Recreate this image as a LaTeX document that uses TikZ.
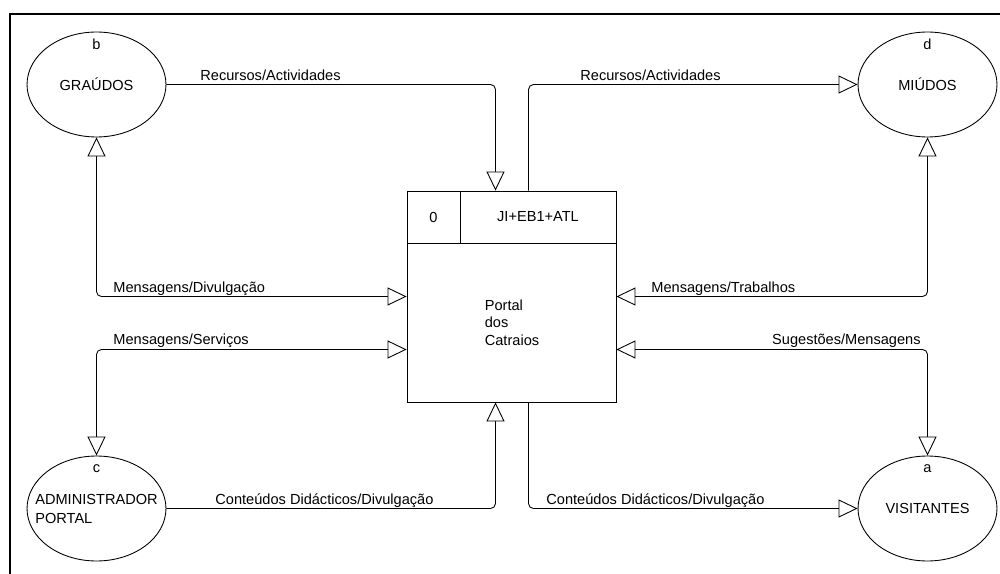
\documentclass[tikz,border=0pt]{standalone}
\usepackage{fontspec}
\setmainfont{Liberation Sans}
\usetikzlibrary{arrows.meta,shapes.geometric,calc}

\begin{document}
\begin{tikzpicture}[x=0.02cm, y=-0.02cm, line width=0.5pt,
        font=\fontsize{8.3}{10}\selectfont,
        >={Triangle[open, length=0.38cm, width=0.36cm]},
        entity/.style={draw, ellipse, inner sep=0pt, minimum width=2.78cm, minimum height=2.1cm},
        flow/.style={draw, rounded corners=0.1cm},
        lbl/.style={anchor=base west, inner sep=0pt}]
            \clip (0, 0) rectangle (1000, 574);
            \draw[line width=1.1pt] (10, 14) rectangle (1010, 600);

            % process box with its header
            \node[draw, inner sep=0pt, minimum width=4.18cm, minimum height=4.22cm] (proc) at (511.5, 296.5) {};
            \node[draw, inner sep=0pt, minimum width=1.06cm, minimum height=1.04cm, anchor=north west] (procid) at (proc.north west) {0};
            \node[draw, inner sep=0pt, minimum width=3.12cm, minimum height=1.04cm, anchor=north east] (procloc) at (proc.north east) {JI+EB1+ATL};
            \node[align=left] (procname) at (512, 322.5) {Portal\\dos\\Catraios};

            % external entities
            \node[entity] (graudos) at (96.5, 84.5) {GRAÚDOS};
            \node[entity] (miudos) at (927.5, 84.5) {MIÚDOS};
            \node[entity] (admin) at (96.5, 508.5) {};
            \node[entity] (visit) at (927.5, 508.5) {VISITANTES};
            \node[align=left, font=\fontsize{8.3}{10.8}\selectfont] (adminname) at (admin.center) {ADMINISTRADOR\\PORTAL};
            \node[anchor=base] (graudosid) at ($(graudos.north)+(0, 18)$) {b};
            \node[anchor=base] (miudosid) at ($(miudos.north)+(0, 18)$) {d};
            \node[anchor=base] (adminid) at ($(admin.north)+(0, 17)$) {c};
            \node[anchor=base] (visitid) at ($(visit.north)+(0, 17)$) {a};

            % data flows
            \draw[flow, ->] (graudos.east) -| ($(proc.north)+(-16, 0)$);
            \draw[flow, ->] ($(proc.north)+(17, 0)$) |- (miudos.west);
            \draw[flow, <->] (graudos.south) |- (proc.west);
            \draw[flow, <->] (admin.north) |- ($(proc.west)+(0, 53)$);
            \draw[flow, <->] (miudos.south) |- (proc.east);
            \draw[flow, <->] (visit.north) |- ($(proc.east)+(0, 53)$);
            \draw[flow, ->] (admin.east) -| ($(proc.south)+(-16, 0)$);
            \draw[flow, ->] ($(proc.south)+(17, 0)$) |- (visit.west);

            \node[lbl] (flowa) at (200, 81) {Recursos/Actividades};
            \node[lbl] (flowb) at (580, 81) {Recursos/Actividades};
            \node[lbl] (flowc) at (113, 292) {Mensagens/Divulgação};
            \node[lbl] (flowd) at (113, 344) {Mensagens/Serviços};
            \node[lbl] (flowe) at (651, 292) {Mensagens/Trabalhos};
            \node[lbl, anchor=base east] (flowf) at (921, 344) {Sugestões/Mensagens};
            \node[lbl] (flowg) at (215, 504) {Conteúdos Didácticos/Divulgação};
            \node[lbl] (flowh) at (546, 504) {Conteúdos Didácticos/Divulgação};
\end{tikzpicture}
\end{document}
